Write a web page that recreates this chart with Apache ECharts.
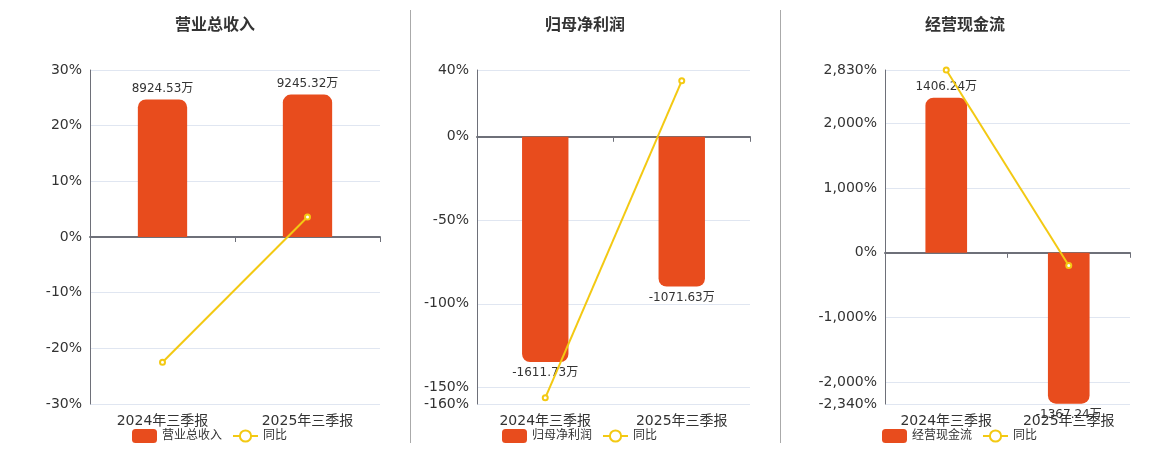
<!DOCTYPE html>
<html>
<head>
<meta charset="utf-8">
<script src="https://cdn.jsdelivr.net/npm/echarts@6/dist/echarts.min.js"></script>
<style>
html,body{margin:0;padding:0;background:#fff;}
#chart{width:1160px;height:450px;}
</style>
</head>
<body>
<div id="chart"></div>
<script>
var categories = ['2024年三季报', '2025年三季报'];

var revenue = [8924.53, 9245.32];
var revenueYoy = [-22.5, 3.59];
var revenueTicks = [-30, -20, -10, 0, 10, 20, 30];

var netProfit = [-1611.73, -1071.63];
var netProfitYoy = [-156.3, 33.51];
var netProfitTicks = [-160, -150, -100, -50, 0, 40];

var cashFlow = [1406.24, -1367.24];
var cashFlowYoy = [2829.6, -197.23];
var cashFlowTicks = [-2340, -2000, -1000, 0, 1000, 2000, 2830];

var FONT = 'DejaVu Sans, Noto Sans CJK SC, sans-serif';
var BAR_COLOR = '#e84c1d';
var LINE_COLOR = '#f3c913';

function fmtPct(v) {
	var s = Math.abs(v).toString().replace(/\B(?=(\d{3})+(?!\d))/g, ',');
	return (v < 0 ? '-' : '') + s + '%';
}

var panels = [
	{title: '营业总收入', bars: revenue, yoy: revenueYoy, ticks: revenueTicks, barMin: -10840, barMax: 10840, left: 90, width: 290, center: 210},
	{title: '归母净利润', bars: netProfit, yoy: netProfitYoy, ticks: netProfitTicks, barMin: -1912, barMax: 478, left: 477, width: 273, center: 580},
	{title: '经营现金流', bars: cashFlow, yoy: cashFlowYoy, ticks: cashFlowTicks, barMin: -1370, barMax: 1657, left: 885, width: 245, center: 960}
];

var option = {
	animation: false,
	backgroundColor: '#fff',
	textStyle: {fontFamily: FONT},
	title: [], legend: [], grid: [], xAxis: [], yAxis: [], series: [],
	graphic: [
		{type: 'line', shape: {x1: 410.5, y1: 10, x2: 410.5, y2: 443}, style: {stroke: '#aaa', lineWidth: 1}},
		{type: 'line', shape: {x1: 780.5, y1: 10, x2: 780.5, y2: 443}, style: {stroke: '#aaa', lineWidth: 1}}
	]
};

panels.forEach(function (p, i) {
	var ticks = p.ticks;
	option.title.push({
		text: p.title, left: p.center, top: 13, textAlign: 'center',
		textStyle: {fontSize: 16, fontWeight: 'bold', color: '#333', fontFamily: FONT}
	});
	// legend roughly centred under its panel
	option.legend.push({
		data: [p.title, '同比'], left: p.center - 83, bottom: 2,
		itemWidth: 25, itemHeight: 14, itemGap: 10,
		textStyle: {fontSize: 12, color: '#333', fontFamily: FONT}
	});
	option.grid.push({left: p.left, width: p.width, top: 70, bottom: 46});
	// x axis with labels at the bottom
	option.xAxis.push({
		type: 'category', gridIndex: i, data: categories, position: 'bottom',
		axisLine: {show: false, onZero: false}, axisTick: {show: false},
		axisLabel: {fontSize: 14, color: '#333', margin: 10, fontFamily: FONT}
	});
	// zero line
	option.xAxis.push({
		type: 'category', gridIndex: i, data: categories, position: 'bottom',
		axisLine: {show: true, onZero: true, onZeroAxisIndex: i * 2, lineStyle: {color: '#6e7079', width: 2}},
		axisTick: {show: true, length: 5, lineStyle: {color: '#6e7079'}},
		axisLabel: {show: false}
	});
	option.yAxis.push({
		type: 'value', gridIndex: i, min: ticks[0], max: ticks[ticks.length - 1],
		axisLine: {show: true, lineStyle: {color: '#6e7079'}},
		axisTick: {show: false, customValues: ticks},
		axisLabel: {customValues: ticks, fontSize: 14, color: '#333', margin: 8, fontFamily: FONT, formatter: fmtPct,
			verticalAlign: 'middle', padding: [3, 0, 0, 0]},
		splitLine: {show: true, lineStyle: {color: '#e0e6f1'}}
	});
	option.yAxis.push({
		type: 'value', gridIndex: i, min: p.barMin, max: p.barMax, show: false,
		splitLine: {show: false}
	});
	option.series.push({
		name: p.title, type: 'bar', xAxisIndex: i * 2, yAxisIndex: i * 2 + 1,
		barWidth: '34%',
		data: p.bars.map(function (v) {
			return {
				value: v,
				itemStyle: {borderRadius: v >= 0 ? [8, 8, 0, 0] : [0, 0, 8, 8]},
				label: {position: v >= 0 ? 'top' : 'bottom'}
			};
		}),
		itemStyle: {color: BAR_COLOR},
		label: {show: true, fontSize: 12, color: '#333', distance: 5, fontFamily: FONT,
			formatter: function (d) { return d.value + '万'; }}
	});
	option.series.push({
		name: '同比', type: 'line', xAxisIndex: i * 2, yAxisIndex: i * 2,
		data: p.yoy, symbol: 'emptyCircle', symbolSize: 5,
		itemStyle: {color: LINE_COLOR}, lineStyle: {color: LINE_COLOR, width: 2}
	});
});

var myChart = echarts.init(document.getElementById('chart'));
myChart.setOption(option);
</script>
</body>
</html>
